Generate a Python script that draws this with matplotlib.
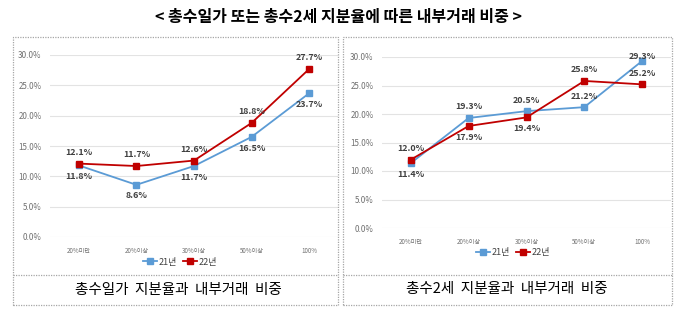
import matplotlib
matplotlib.use("Agg")
import matplotlib.pyplot as plt
from matplotlib.patches import Rectangle
from matplotlib.lines import Line2D

plt.rcParams['font.family'] = ['Noto Sans CJK KR', 'DejaVu Sans']

categories = ['20%미만', '20%이상', '30%이상', '50%이상', '100%']
series_names = ['21년', '22년']
left_21 = [11.8, 8.6, 11.7, 16.5, 23.7]
left_22 = [12.1, 11.7, 12.6, 18.8, 27.7]
right_21 = [11.4, 19.3, 20.5, 21.2, 29.3]
right_22 = [12.0, 17.9, 19.4, 25.8, 25.2]
yticks = [0, 5, 10, 15, 20, 25, 30]
main_title = '< 총수일가 또는 총수2세 지분율에 따른 내부거래 비중 >'
sub_titles = ['총수일가  지분율과  내부거래  비중', '총수2세  지분율과  내부거래  비중']

# label vertical offsets (points): positive above, negative below
left_off_21 = [-8, -8, -8, -8, -8]
left_off_22 = [8, 8, 8, 8, 8]
right_off_21 = [-8, 8, 8, 8, 3]
right_off_22 = [8, -8, -8, 8, 8]

BLUE = '#5B9BD5'
RED = '#C00000'
W, H = 680, 323
fig = plt.figure(figsize=(W / 100, H / 100), dpi=100)
fig.patch.set_facecolor('white')


def fx(px):
    return px / W


def fy(py):
    return 1 - py / H


# panel boxes
for (x0, x1) in [(13, 338), (343, 672)]:
    rect = Rectangle((fx(x0), fy(305)), fx(x1 - x0), (305 - 37) / H,
                     transform=fig.transFigure, fill=False,
                     edgecolor='#a6a6a6', linewidth=0.9, linestyle=(0, (1, 1)))
    fig.add_artist(rect)
    fig.add_artist(Line2D([fx(x0), fx(x1)], [fy(275), fy(275)],
                          transform=fig.transFigure, color='#a6a6a6',
                          linewidth=0.9, linestyle=(0, (1, 1))))

fig.text(fx(338), fy(17), main_title, ha='center', va='center',
         fontsize=11.5, fontweight='bold', color='#000000')

panels = [
    dict(rect=[fx(50), fy(237), fx(288), 182 / H], d21=left_21, d22=left_22,
         o21=left_off_21, o22=left_off_22, leg=(180, 262), sub=(178, 290)),
    dict(rect=[fx(382), fy(228), fx(289), 171 / H], d21=right_21, d22=right_22,
         o21=right_off_21, o22=right_off_22, leg=(513, 253), sub=(507, 289)),
]

for i, p in enumerate(panels):
    ax = fig.add_axes(p['rect'])
    x = list(range(len(categories)))
    ax.plot(x, p['d21'], color=BLUE, lw=1.3, marker='s', ms=4.5,
            markerfacecolor=BLUE, markeredgecolor=BLUE, label=series_names[0], zorder=3)
    ax.plot(x, p['d22'], color=RED, lw=1.3, marker='s', ms=4.5,
            markerfacecolor=RED, markeredgecolor=RED, label=series_names[1], zorder=3)
    for vals, offs in [(p['d21'], p['o21']), (p['d22'], p['o22'])]:
        for xi, (v, off) in enumerate(zip(vals, offs)):
            ax.annotate(f'{v:.1f}%', (xi, v), xytext=(0, off),
                        textcoords='offset points', ha='center', va='center',
                        fontsize=6.4, fontweight='bold', color='#404040',
                        annotation_clip=False, zorder=4)
    ax.set_xlim(-0.5, len(categories) - 0.5)
    ax.set_ylim(0, 30)
    ax.set_yticks(yticks)
    ax.set_yticklabels([f'{t:.1f}%' for t in yticks], fontsize=5.8, color='#707070')
    ax.set_xticks(x)
    ax.set_xticklabels(categories, fontsize=4.5, color='#707070')
    ax.tick_params(length=0, pad=6)
    ax.tick_params(axis='x', pad=7)
    ax.grid(axis='y', color='#e3e3e3', lw=0.8)
    ax.set_axisbelow(True)
    for s in ax.spines.values():
        s.set_visible(False)
    ax.patch.set_alpha(0)
    lx, ly = p['leg']
    fig.legend(handles=ax.get_lines(), labels=series_names, loc='center',
               bbox_to_anchor=(fx(lx), fy(ly)), ncol=2, frameon=False,
               fontsize=6.5, handlelength=1.6, handletextpad=0.2, columnspacing=0.6,
               labelcolor='#404040', markerscale=0.9)
    sx, sy = p['sub']
    fig.text(fx(sx), fy(sy), sub_titles[i], ha='center', va='center',
             fontsize=10.5, color='#000000')

fig.savefig('out.png', dpi=100, facecolor='white')
